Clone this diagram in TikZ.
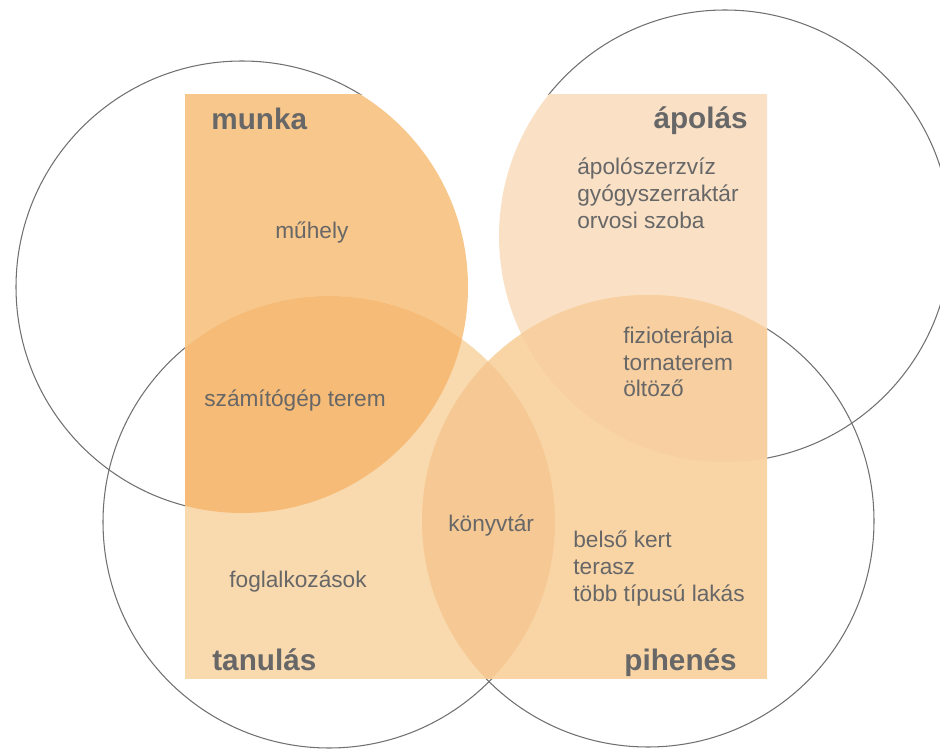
\documentclass[tikz,border=0pt]{standalone}
\usepackage{fontspec}
\setmainfont{Liberation Sans}
\definecolor{textgray}{HTML}{676767}
\definecolor{ringgray}{HTML}{707070}
\definecolor{munkafill}{HTML}{F8C78B}
\definecolor{apolasfill}{HTML}{FAE1C6}
\definecolor{tanulasfill}{HTML}{F9D9AE}
\definecolor{pihenesfill}{HTML}{F9D5A6}
\definecolor{mtfill}{HTML}{F6BB76}
\definecolor{tpfill}{HTML}{F6C994}
\definecolor{apfill}{HTML}{F8CFA0}
\begin{document}
\begin{tikzpicture}
  [x=0.02cm,y=-0.02cm,
   title/.style={anchor=base west,inner sep=0,text=textgray,font=\fontsize{16.9}{20}\selectfont\bfseries},
   item/.style={anchor=base west,inner sep=0,text=textgray,font=\fontsize{12.9}{15.2}\selectfont},
   ring/.style={draw=ringgray,line width=0.6pt}]
  \useasboundingbox (0,0) rectangle (940,749);
  \coordinate (munka) at (242,287);
  \coordinate (apolas) at (725,236);
  \coordinate (tanulas) at (329,522);
  \coordinate (pihenes) at (648,521);

  \foreach \c in {munka,apolas,tanulas,pihenes}
    \draw[ring] (\c) circle [radius=226];

  \fill[white] (185,95) rectangle (767,678);
  \begin{scope}
    \clip (185,95) rectangle (767,678);
    \foreach \c/\col in {munka/munkafill,apolas/apolasfill,tanulas/tanulasfill,pihenes/pihenesfill}
      \fill[\col] (\c) circle [radius=226];
    \foreach \a/\b/\col in {munka/tanulas/mtfill,tanulas/pihenes/tpfill,apolas/pihenes/apfill}
    {
      \begin{scope}
        \clip (\a) circle [radius=226];
        \fill[\col] (\b) circle [radius=226];
      \end{scope}
    }
  \end{scope}

  \node[title] (t-munka) at (211,130) {munka};
  \node[title,anchor=base east] (t-apolas) at (748,129) {ápolás};
  \node[title] (t-tanulas) at (212,670) {tanulás};
  \node[title,anchor=base east] (t-pihenes) at (737,670) {pihenés};

  \node[item] (muhely) at (275,239) {műhely};
  \node[item] (szamitogep) at (204,407) {számítógép terem};
  \node[item] (konyvtar) at (448,532) {könyvtár};
  \node[item] (foglalkozas) at (229,587) {foglalkozások};

  \foreach \t [count=\i] in {ápolószerzvíz,gyógyszerraktár,orvosi szoba}
    \node[item] (apolas-\i) at (577,{175+26.7*(\i-1)}) {\t};
  \foreach \t [count=\i] in {fizioterápia,tornaterem,öltöző}
    \node[item] (fizio-\i) at (623,{344+26.3*(\i-1)}) {\t};
  \foreach \t [count=\i] in {belső kert,terasz,több típusú lakás}
    \node[item] (kert-\i) at (573,{548+27*(\i-1)}) {\t};

\end{tikzpicture}
\end{document}
